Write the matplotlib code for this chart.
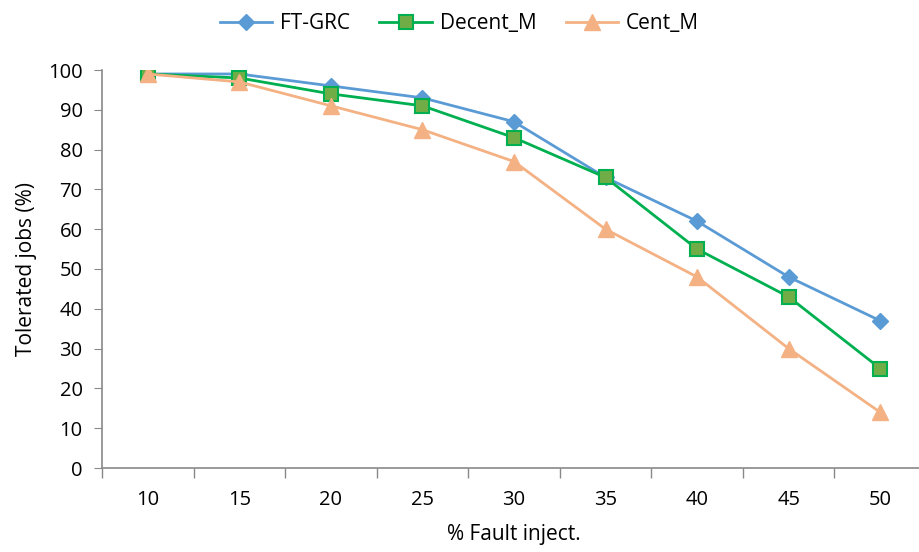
import matplotlib.pyplot as plt
import numpy as np

plt.rcParams['font.family'] = ['Open Sans', 'DejaVu Sans']

# data
fault_pct = ['10', '15', '20', '25', '30', '35', '40', '45', '50']
ft_grc = [99, 99, 96, 93, 87, 73, 62, 48, 37]
decent_m = [99, 98, 94, 91, 83, 73, 55, 43, 25]
cent_m = [99, 97, 91, 85, 77, 60, 48, 30, 14]

fig = plt.figure(figsize=(9.19, 5.52), dpi=100)
# right edge runs a bit past the picture, as in the original
ax = fig.add_axes([102 / 919, 84 / 552, 824 / 919, 398 / 552])

x = np.arange(len(fault_pct))
ax.plot(x, ft_grc, color='#5B9BD5', lw=2, marker='D', ms=8,
        mfc='#5B9BD5', mec='#5B9BD5', label='FT-GRC', zorder=3)
ax.plot(x, decent_m, color='#00B050', lw=2, marker='s', ms=10,
        mfc='#70AD47', mec='#00B050', mew=1.5, label='Decent_M', zorder=3)
ax.plot(x, cent_m, color='#F4B183', lw=2, marker='^', ms=11,
        mfc='#F4B183', mec='#F4B183', label='Cent_M', zorder=3)

ax.set_xlim(-0.5, len(fault_pct) - 0.5)
ax.set_ylim(0, 100)
ax.set_yticks(range(0, 101, 10))
ax.set_xticks(x)
ax.set_xticklabels(fault_pct)
ax.set_xticks(np.arange(-0.5, len(fault_pct)), minor=True)
ax.tick_params(axis='x', which='major', length=0, pad=16, labelsize=14.5)
ax.tick_params(axis='x', which='minor', length=7, color='#898989', width=1)
ax.tick_params(axis='y', length=6, color='#898989', labelsize=14.5, pad=8)

for s in ['top', 'right']:
    ax.spines[s].set_visible(False)
for s in ['left', 'bottom']:
    ax.spines[s].set_color('#898989')
    ax.spines[s].set_linewidth(1.2)

ax.set_xlabel('% Fault inject.', fontsize=15, labelpad=10)
ax.set_ylabel('Tolerated jobs (%)', fontsize=15, labelpad=8)

fig.legend(loc='upper center', bbox_to_anchor=(0.5, 1.01), ncol=3, frameon=False,
           fontsize=15, handlelength=2.5, columnspacing=1.4, handletextpad=0.4)

fig.savefig('out.png', dpi=100)
